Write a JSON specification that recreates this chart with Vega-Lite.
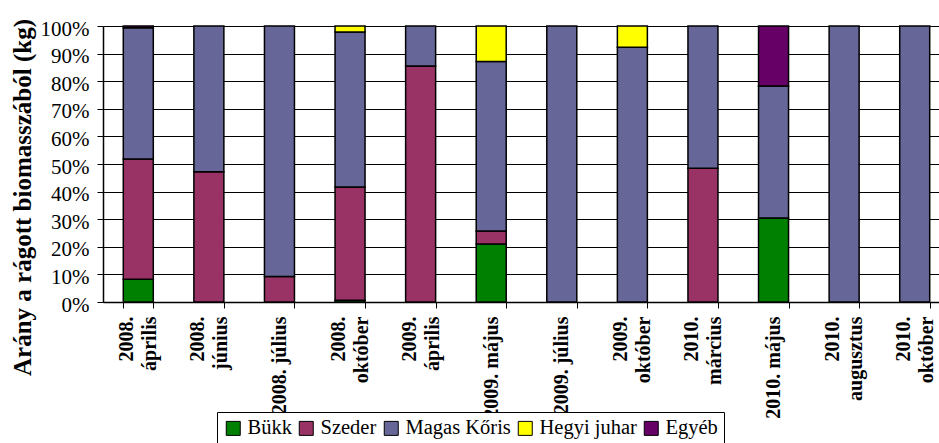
{
  "$schema": "https://vega.github.io/schema/vega-lite/v6.json",
  "width": 836,
  "height": 276,
  "autosize": {"type": "none"},
  "padding": {"left": 103, "top": 26, "right": 0, "bottom": 141},
  "background": "white",
  "data": {
    "values": [
      {"date": "2008.|április", "species": "Bükk", "rank": 1, "value": 8.2},
      {"date": "2008.|április", "species": "Szeder", "rank": 2, "value": 43.6},
      {"date": "2008.|április", "species": "Magas Kőris", "rank": 3, "value": 47.6},
      {"date": "2008.|április", "species": "Egyéb", "rank": 5, "value": 0.6},
      {"date": "2008.|június", "species": "Szeder", "rank": 2, "value": 47.2},
      {"date": "2008.|június", "species": "Magas Kőris", "rank": 3, "value": 52.8},
      {"date": "2008. július", "species": "Szeder", "rank": 2, "value": 9.2},
      {"date": "2008. július", "species": "Magas Kőris", "rank": 3, "value": 90.8},
      {"date": "2008.|október", "species": "Bükk", "rank": 1, "value": 0.6},
      {"date": "2008.|október", "species": "Szeder", "rank": 2, "value": 41.1},
      {"date": "2008.|október", "species": "Magas Kőris", "rank": 3, "value": 56.1},
      {"date": "2008.|október", "species": "Hegyi juhar", "rank": 4, "value": 2.2},
      {"date": "2009.|április", "species": "Szeder", "rank": 2, "value": 85.5},
      {"date": "2009.|április", "species": "Magas Kőris", "rank": 3, "value": 14.5},
      {"date": "2009. május", "species": "Bükk", "rank": 1, "value": 21.0},
      {"date": "2009. május", "species": "Szeder", "rank": 2, "value": 4.7},
      {"date": "2009. május", "species": "Magas Kőris", "rank": 3, "value": 61.4},
      {"date": "2009. május", "species": "Hegyi juhar", "rank": 4, "value": 12.9},
      {"date": "2009. július", "species": "Magas Kőris", "rank": 3, "value": 100},
      {"date": "2009.|október", "species": "Magas Kőris", "rank": 3, "value": 92.3},
      {"date": "2009.|október", "species": "Hegyi juhar", "rank": 4, "value": 7.7},
      {"date": "2010.|március", "species": "Szeder", "rank": 2, "value": 48.5},
      {"date": "2010.|március", "species": "Magas Kőris", "rank": 3, "value": 51.5},
      {"date": "2010. május", "species": "Bükk", "rank": 1, "value": 30.4},
      {"date": "2010. május", "species": "Magas Kőris", "rank": 3, "value": 47.9},
      {"date": "2010. május", "species": "Egyéb", "rank": 5, "value": 21.7},
      {"date": "2010.|augusztus", "species": "Magas Kőris", "rank": 3, "value": 100},
      {"date": "2010.|október", "species": "Magas Kőris", "rank": 3, "value": 100}
    ]
  },
  "mark": {"type": "bar", "stroke": "black", "strokeWidth": 1.5},
  "encoding": {
    "x": {
      "field": "date",
      "type": "nominal",
      "sort": null,
      "scale": {"range": [0, 847], "paddingInner": 0.575, "paddingOuter": 0.2875},
      "axis": {
        "title": null,
        "labelAngle": -90,
        "labelExpr": "datum.value ? split(datum.value, '|') : ''",
        "labelFont": "Liberation Serif",
        "labelFontSize": 20,
        "labelFontWeight": "bold",
        "labelColor": "#000",
        "labelLineHeight": 23,
        "labelOffset": {"condition": {"test": "datum.value && indexof(datum.value, '|') >= 0", "value": -11.5}, "value": 0},
        "labelPadding": 8,
        "labelOverlap": false,
        "labelLimit": 0,
        "tickBand": "extent",
        "tickSize": 6,
        "tickColor": "#000",
        "domainColor": "#000",
        "domainWidth": 1.5
      }
    },
    "y": {
      "field": "value",
      "type": "quantitative",
      "stack": "normalize",
      "scale": {"domain": [0, 1]},
      "axis": {
        "title": "Arány a rágott biomasszából (kg)",
        "format": ".0%",
        "values": [0, 0.1, 0.2, 0.3, 0.4, 0.5, 0.6, 0.7, 0.8, 0.9, 1],
        "grid": true,
        "gridColor": "#000",
        "gridWidth": 1.2,
        "domainColor": "#000",
        "domainWidth": 1.5,
        "tickColor": "#000",
        "tickSize": 6,
        "labelFont": "Liberation Serif",
        "labelFontSize": 21,
        "labelColor": "#000",
        "labelPadding": 8,
        "labelOffset": 3,
        "titleFont": "Liberation Serif",
        "titleFontSize": 25,
        "titleFontWeight": "bold",
        "titleColor": "#000",
        "titleAngle": 270,
        "titleX": -73,
        "titleY": 171,
        "titleAlign": "center",
        "titleBaseline": "alphabetic"
      }
    },
    "order": {"field": "rank", "type": "quantitative", "sort": "ascending"},
    "color": {
      "field": "species",
      "type": "nominal",
      "sort": ["Bükk", "Szeder", "Magas Kőris", "Hegyi juhar", "Egyéb"],
      "scale": {
        "domain": ["Bükk", "Szeder", "Magas Kőris", "Hegyi juhar", "Egyéb"],
        "range": ["#008000", "#993366", "#666699", "#FFFF00", "#660066"]
      },
      "legend": {
        "orient": "none",
        "legendX": 114,
        "legendY": 386,
        "direction": "horizontal",
        "title": null,
        "symbolType": "square",
        "symbolSize": 196,
        "symbolStrokeColor": "#000",
        "symbolStrokeWidth": 1,
        "labelFont": "Liberation Serif",
        "labelFontSize": 20.5,
        "labelColor": "#000",
        "labelOffset": 4,
        "labelLimit": 0,
        "columnPadding": 4,
        "padding": 6,
        "strokeColor": "#000",
        "fillColor": "white"
      }
    }
  },
  "config": {"view": {"stroke": null}, "font": "Liberation Serif"}
}
